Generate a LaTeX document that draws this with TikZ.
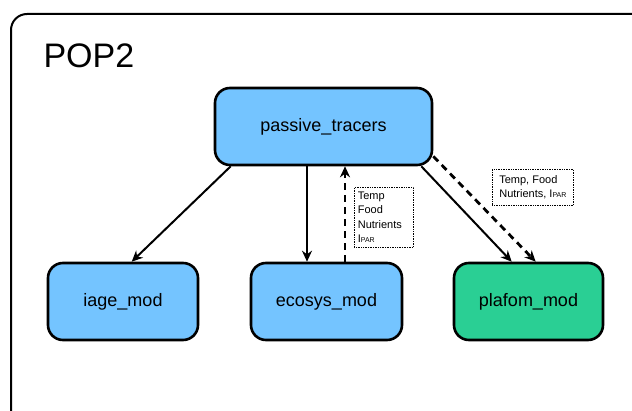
\documentclass[tikz,border=0pt]{standalone}
\usepackage{fontspec}
\setmainfont{Liberation Sans}
\usetikzlibrary{arrows.meta}
\definecolor{boxblue}{RGB}{116,196,255}
\definecolor{boxgreen}{RGB}{42,207,148}
\begin{document}
\begin{tikzpicture}[x=1pt,y=-1pt,
  modbox/.style={draw=black, line width=2.6pt, rounded corners=15pt, fill=boxblue,
    minimum width=150pt, minimum height=77pt, font=\fontsize{18}{20}\selectfont, inner sep=0pt},
  lbl/.style={draw=black, densely dotted, line width=0.7pt, align=left, inner sep=3pt,
    font=\fontsize{11}{14.5}\selectfont, anchor=north west},
  arr/.style={line width=2pt, -{Stealth[length=11pt,width=10pt]}},
  darr/.style={line width=2.8pt, dash pattern=on 7pt off 5pt, -{Stealth[length=11pt,width=10pt]}}
]
\useasboundingbox (0,0) rectangle (632,411);
\draw[line width=2pt, rounded corners=16pt] (11,413) -- (11,14) -- (650,14);
\node[anchor=west, font=\fontsize{34}{36}\selectfont] (title) at (40,56) {POP2};

\node[modbox, minimum width=217pt] (pt) at (323.5,126.5) {passive\_tracers};
\node[modbox] (iage) at (123,301.5) {iage\_mod};
\node[modbox, minimum width=151pt] (eco) at (326.5,301.5) {ecosys\_mod};
\node[modbox, minimum width=149pt, fill=boxgreen] (pla) at (528.5,301.5) {plafom\_mod};

\draw[arr] ([xshift=17pt]pt.south west) -- ([xshift=85pt]iage.north west);
\draw[arr] ([xshift=-16.5pt]pt.south) -- ([xshift=-19.5pt]eco.north);
\draw[darr] ([xshift=18.5pt]eco.north) -- ([xshift=21.5pt]pt.south);
\draw[arr] ([xshift=-12pt]pt.south east) -- ([xshift=59pt]pla.north west);
\draw[darr] ([yshift=10pt]pt.south east) -- ([xshift=83pt]pla.north west);

\node[lbl, minimum width=59pt, minimum height=60pt, text width=52pt] (l1) at (354,187)
  {Temp\\Food\\Nutrients\\I{\fontsize{7}{8}\selectfont PAR}};
\node[lbl, minimum width=81pt, minimum height=36pt] (l2) at (492,169)
  {Temp, Food\\Nutrients, I{\fontsize{7}{8}\selectfont PAR}};
\end{tikzpicture}
\end{document}
